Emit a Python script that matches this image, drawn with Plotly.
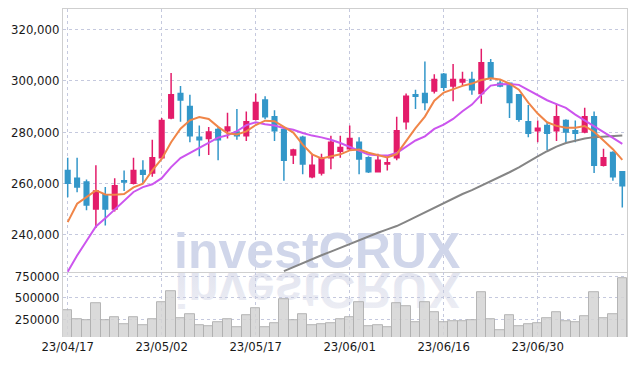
import base64
import plotly.graph_objects as go

# ---------------- data ----------------
dates = [
    "2023-04-17", "2023-04-18", "2023-04-19", "2023-04-20", "2023-04-21",
    "2023-04-24", "2023-04-25", "2023-04-26", "2023-04-27", "2023-04-28",
    "2023-05-02", "2023-05-03", "2023-05-04", "2023-05-08", "2023-05-09",
    "2023-05-10", "2023-05-11", "2023-05-12", "2023-05-15", "2023-05-16",
    "2023-05-17", "2023-05-18", "2023-05-19", "2023-05-22", "2023-05-23",
    "2023-05-24", "2023-05-25", "2023-05-26", "2023-05-30", "2023-05-31",
    "2023-06-01", "2023-06-02", "2023-06-05", "2023-06-07", "2023-06-08",
    "2023-06-09", "2023-06-12", "2023-06-13", "2023-06-14", "2023-06-15",
    "2023-06-16", "2023-06-19", "2023-06-20", "2023-06-21", "2023-06-22",
    "2023-06-23", "2023-06-26", "2023-06-27", "2023-06-28", "2023-06-29",
    "2023-06-30", "2023-07-03", "2023-07-04", "2023-07-05", "2023-07-06",
    "2023-07-07", "2023-07-10", "2023-07-11", "2023-07-12", "2023-07-13",
]

open_ = [265000, 262000, 260500, 250000, 255500, 250000, 261000, 260000, 265000, 264000,
         270000, 285500, 295000, 290000, 278000, 277500, 281000, 280500, 280000, 278500,
         285000, 292500, 286000, 281000, 271000, 278000, 262500, 264000, 270000, 272500,
         273500, 276000, 270000, 264500, 267500, 270000, 284000, 294500, 295000, 296000,
         302500, 298000, 299500, 300500, 295000, 307000, 299000, 299000, 294500, 284000,
         280500, 282500, 280500, 284500, 280500, 280000, 286000, 267000, 272000, 264500]
high = [270000, 270000, 261500, 267000, 258500, 262000, 265000, 270000, 269000, 277000,
        285500, 303000, 298000, 294500, 282500, 282000, 282000, 287500, 289000, 288000,
        295000, 294000, 288500, 281000, 273500, 278500, 271500, 271500, 278500, 278500,
        282500, 278000, 270500, 271500, 270500, 286000, 295000, 296500, 307500, 302500,
        303000, 306500, 303500, 303500, 312500, 308500, 300500, 299000, 294500, 290500,
        284500, 284000, 291000, 285000, 284500, 289500, 288000, 273500, 272500, 264500]
low = [254500, 256500, 249500, 242500, 243500, 249000, 257000, 259500, 260000, 262500,
       269500, 285000, 284000, 276000, 270500, 271000, 269000, 277500, 277000, 276500,
       284500, 285000, 276500, 261000, 267500, 263500, 262000, 263000, 265500, 270000,
       273000, 263500, 264000, 264500, 265000, 269000, 281000, 289000, 288500, 295000,
       296000, 292000, 298000, 294500, 291000, 300000, 297500, 285500, 284000, 278000,
       276000, 273000, 276500, 276000, 276000, 279500, 264000, 266500, 261000, 250500]
close = [260000, 258500, 251500, 257000, 250000, 259000, 260500, 265000, 263500, 270000,
         284500, 294500, 292500, 278500, 277000, 280000, 277000, 282000, 278500, 284000,
         291500, 286000, 280500, 269000, 273000, 267500, 267000, 270000, 276000, 274000,
         277500, 269500, 264500, 269000, 268000, 280500, 294000, 294000, 291500, 300500,
         297500, 300500, 300500, 296500, 307000, 301000, 298000, 291500, 285000, 279500,
         281500, 279500, 286000, 280000, 279500, 286000, 267000, 270000, 262500, 259000]

volume = [359000, 253000, 238000, 441000, 238000, 277000, 195000, 277000, 183000, 253000,
          453000, 582000, 265000, 312000, 180000, 171000, 218000, 250000, 160000, 300000,
          383000, 160000, 207000, 485000, 242000, 312000, 183000, 195000, 207000, 253000,
          277000, 453000, 171000, 183000, 160000, 441000, 406000, 215000, 450000, 332000,
          210000, 226000, 226000, 238000, 567000, 250000, 121000, 297000, 168000, 191000,
          203000, 262000, 332000, 226000, 215000, 285000, 567000, 262000, 309000, 731000]

ma5 = [244850, 252000, 254600, 257200, 255650, 255520, 255780, 258400, 259820, 265000,
       269500, 276000, 281300, 284560, 285860, 285080, 282000, 279500, 279000, 280260,
       282730, 284430, 284200, 281900, 279800, 275050, 271300, 269700, 270500, 271300,
       272840, 273200, 271900, 271000, 270100, 271400, 276500, 281500, 286000, 292200,
       295400, 296800, 298000, 298900, 300300, 301000, 300500, 298900, 296500, 291500,
       287200, 283800, 282400, 281700, 281700, 282300, 280100, 276700, 273300, 269100]

ma20 = [225500, 231800, 237500, 243150, 246300, 249800, 253300, 256600, 258500, 259600,
        262000, 266300, 269800, 271800, 274100, 276100, 277800, 278700, 280300, 282700,
        283800, 283000, 282500, 281600, 280900, 279600, 278600, 277900, 277000, 275700,
        274100, 272500, 271200, 270900, 270800, 271800, 274400, 276700, 278300, 281200,
        282900, 285100, 288100, 290700, 294600, 298100, 298600, 298700, 298400, 296300,
        294200, 292400, 290900, 289400, 286800, 284600, 282200, 279900, 277700, 275400]

ma60 = [None] * 23 + [
    225700, 227300, 228900, 230400, 231900, 233300, 234800,
    236500, 237900, 239300, 240700, 242000, 243300, 245000, 246800, 248800, 250700,
    252500, 254200, 255800, 257300, 259000, 260800, 262500, 264300, 266200, 268500,
    270500, 272500, 274300, 275700, 276700, 277500, 278000, 278300, 278500, 278600]

tick_idx = [0, 10, 20, 30, 40, 50]
tick_labels = ["23/04/17", "23/05/02", "23/05/17", "23/06/01", "23/06/16", "23/06/30"]
price_ticks = [240000, 260000, 280000, 300000, 320000]
volume_ticks = [250000, 500000, 750000]
watermark = "investCRUX"

# ---------------- styling ----------------
UP = "#e31c6a"
DOWN = "#3397c9"
GRID = "#c5c9de"
AXLINE = "#cfcfcf"
TICKFONT = dict(family="DejaVu Sans Condensed, DejaVu Sans, sans-serif",
                size=13, color="#1a1a1a")

x = list(range(len(dates)))

fig = go.Figure()

# watermark (below data)
fig.add_trace(go.Scatter(
    x=[26.54], y=[241450], mode="text", text=[watermark],
    textposition="bottom center", cliponaxis=False,
    textfont=dict(family="Liberation Sans, Arial, sans-serif", size=50,
                  color="#d0d6ea", weight="bold"),
    hoverinfo="skip", showlegend=False, xaxis="x", yaxis="y"))

fig.add_trace(go.Candlestick(
    x=x, open=open_, high=high, low=low, close=close,
    increasing=dict(line=dict(color=UP, width=1.5), fillcolor=UP),
    decreasing=dict(line=dict(color=DOWN, width=1.5), fillcolor=DOWN),
    hoverinfo="skip", showlegend=False, xaxis="x", yaxis="y"))

fig.add_trace(go.Scatter(x=x, y=ma60, mode="lines", line=dict(color="#858585", width=2),
                         hoverinfo="skip", showlegend=False, xaxis="x", yaxis="y"))
fig.add_trace(go.Scatter(x=x, y=ma20, mode="lines", line=dict(color="#cc55ee", width=2),
                         hoverinfo="skip", showlegend=False, xaxis="x", yaxis="y"))
fig.add_trace(go.Scatter(x=x, y=ma5, mode="lines", line=dict(color="#f08548", width=2),
                         hoverinfo="skip", showlegend=False, xaxis="x", yaxis="y"))

fig.add_trace(go.Bar(
    x=x, y=volume, width=1.0,
    marker=dict(color="rgba(212,212,212,0.85)", line=dict(color="rgba(175,175,175,0.9)", width=1)),
    hoverinfo="skip", showlegend=False, xaxis="x2", yaxis="y2"))

# reflection of the watermark (decorative)
svg = (
    '<svg xmlns="http://www.w3.org/2000/svg" width="320" height="45" viewBox="0 0 320 45">'
    '<defs><linearGradient id="g" x1="0" y1="0" x2="0" y2="1">'
    '<stop offset="0" stop-color="#eeeff5"/><stop offset="1" stop-color="#e0e2ee"/>'
    '</linearGradient></defs>'
    '<text x="160" y="-1" transform="scale(1,-1)" text-anchor="middle" '
    'font-family="Liberation Sans, Arial, sans-serif" font-weight="bold" font-size="50" '
    'fill="url(#g)">' + watermark + '</text></svg>')
src = "data:image/svg+xml;base64," + base64.b64encode(svg.encode()).decode()

PRICE_BOTTOM = 0.1976

fig.update_layout(
    width=637, height=366,
    margin=dict(l=63, r=10, t=9, b=29),
    paper_bgcolor="white", plot_bgcolor="white",
    showlegend=False, hovermode=False, bargap=0,
    images=[dict(source=src, xref="paper", yref="paper", x=0.16755, y=0.19847,
                 sizex=0.5674, sizey=0.1374, sizing="stretch",
                 xanchor="left", yanchor="top", layer="below")],
    xaxis=dict(domain=[0, 1], anchor="y", range=[-0.5, 59.5], tickvals=tick_idx,
               showticklabels=False, showgrid=True, gridcolor=GRID, griddash="dot",
               gridwidth=1, zeroline=False, showline=True, mirror=True,
               linecolor=AXLINE, linewidth=1, rangeslider=dict(visible=False),
               fixedrange=True, automargin=False),
    yaxis=dict(domain=[PRICE_BOTTOM, 1], anchor="x", range=[225300, 328000],
               tickvals=price_ticks, tickformat=",", tickfont=TICKFONT,
               showgrid=True, gridcolor=GRID, griddash="dot", gridwidth=1,
               zeroline=False, showline=True, mirror=True, linecolor=AXLINE,
               linewidth=1, ticks="", ticklabelstandoff=0, automargin=False),
    xaxis2=dict(domain=[0, 1], anchor="y2", matches="x", range=[-0.5, 59.5],
                tickvals=tick_idx, ticktext=tick_labels, tickfont=TICKFONT,
                showgrid=True, gridcolor=GRID, griddash="dot", gridwidth=1,
                zeroline=False, showline=False, ticks="", ticklabelstandoff=0,
                automargin=False),
    yaxis2=dict(domain=[0, PRICE_BOTTOM], anchor="x2", range=[42000, 801600],
                tickvals=volume_ticks, tickformat="d", tickfont=TICKFONT,
                showgrid=True, gridcolor=GRID, griddash="dot", gridwidth=1,
                zeroline=False, showline=True, mirror=True, linecolor=AXLINE,
                linewidth=1, ticks="", ticklabelstandoff=0, automargin=False),
)

fig.write_html("out.html", config={"displayModeBar": False},
               post_script="document.body.style.margin='0';")
